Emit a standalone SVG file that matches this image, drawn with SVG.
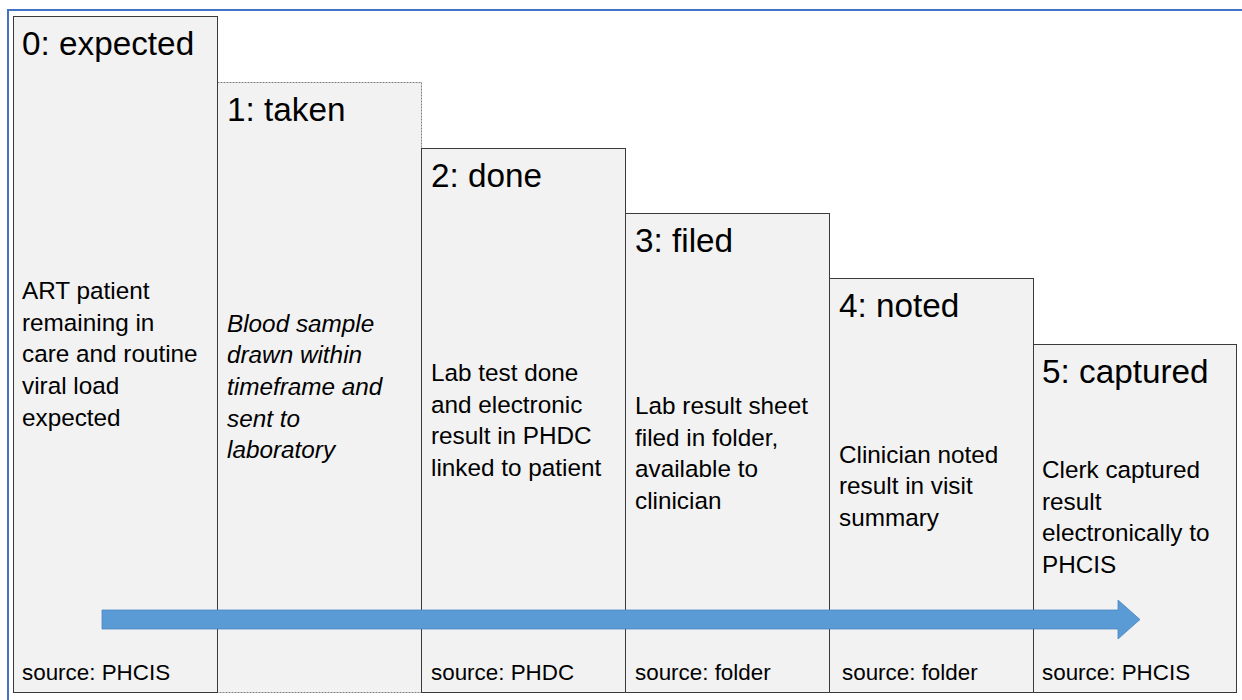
<svg xmlns="http://www.w3.org/2000/svg" width="1242" height="700" viewBox="0 0 1242 700">
<style>
.box{fill:#f2f2f2;stroke:#3a3a3a;stroke-width:1}
.dash{fill:#f2f2f2;stroke:#7f7f7f;stroke-width:1;stroke-dasharray:2 1}
.t{font-family:"Liberation Sans",Arial,sans-serif;font-size:33.3px;fill:#000}
.b{font-family:"Liberation Sans",Arial,sans-serif;font-size:24.3px;fill:#000}
.i{font-style:italic}
.s{font-family:"Liberation Sans",Arial,sans-serif;font-size:22.4px;fill:#000}
</style>
<rect x="0" y="0" width="1242" height="700" fill="#fff"/>
<rect x="8" y="10" width="1300" height="800" fill="none" stroke="#4472c4" stroke-width="2"/>
<g id="step0">
<rect class="box" x="13.5" y="16.5" width="204" height="676"/>
<text class="t" x="22" y="55">0: expected</text>
<text class="b" x="22" y="299">ART patient</text>
<text class="b" x="22" y="331">remaining in</text>
<text class="b" x="22" y="362">care and routine</text>
<text class="b" x="22" y="394">viral load</text>
<text class="b" x="22" y="426">expected</text>
<text class="s" x="22" y="680">source: PHCIS</text>
</g>
<g id="step1">
<rect class="dash" x="217.5" y="82.5" width="204" height="610"/>
<line x1="217.5" y1="82" x2="217.5" y2="693" stroke="#3a3a3a" stroke-width="1"/>
<text class="t" x="227" y="121">1: taken</text>
<text class="b i" x="227" y="332">Blood sample</text>
<text class="b i" x="227" y="363">drawn within</text>
<text class="b i" x="227" y="395">timeframe and</text>
<text class="b i" x="227" y="427">sent to</text>
<text class="b i" x="227" y="458">laboratory</text>
</g>
<g id="step2">
<rect class="box" x="421.5" y="148.5" width="204" height="544"/>
<text class="t" x="431" y="187">2: done</text>
<text class="b" x="431" y="381">Lab test done</text>
<text class="b" x="431" y="413">and electronic</text>
<text class="b" x="431" y="444">result in PHDC</text>
<text class="b" x="431" y="476">linked to patient</text>
<text class="s" x="431" y="680">source: PHDC</text>
</g>
<g id="step3">
<rect class="box" x="625.5" y="213.5" width="204" height="479"/>
<text class="t" x="635" y="252">3: filed</text>
<text class="b" x="635" y="414">Lab result sheet</text>
<text class="b" x="635" y="446">filed in folder,</text>
<text class="b" x="635" y="477">available to</text>
<text class="b" x="635" y="509">clinician</text>
<text class="s" x="635" y="680">source: folder</text>
</g>
<g id="step4">
<rect class="box" x="829.5" y="278.5" width="204" height="414"/>
<text class="t" x="839" y="317">4: noted</text>
<text class="b" x="839" y="463">Clinician noted</text>
<text class="b" x="839" y="494">result in visit</text>
<text class="b" x="839" y="526">summary</text>
<text class="s" x="842" y="680">source: folder</text>
</g>
<g id="step5">
<rect class="box" x="1033.5" y="344.5" width="203" height="348"/>
<text class="t" x="1042" y="383">5: captured</text>
<text class="b" x="1042" y="478">Clerk captured</text>
<text class="b" x="1042" y="510">result</text>
<text class="b" x="1042" y="541">electronically to</text>
<text class="b" x="1042" y="573">PHCIS</text>
<text class="s" x="1042" y="680">source: PHCIS</text>
</g>
<g id="connectors">
<polygon points="102,610 1118,610 1118,600 1140,619.5 1118,639 1118,629 102,629" fill="#5b9bd5" stroke="#4a86c0" stroke-width="0.8"/>
</g>
</svg>
